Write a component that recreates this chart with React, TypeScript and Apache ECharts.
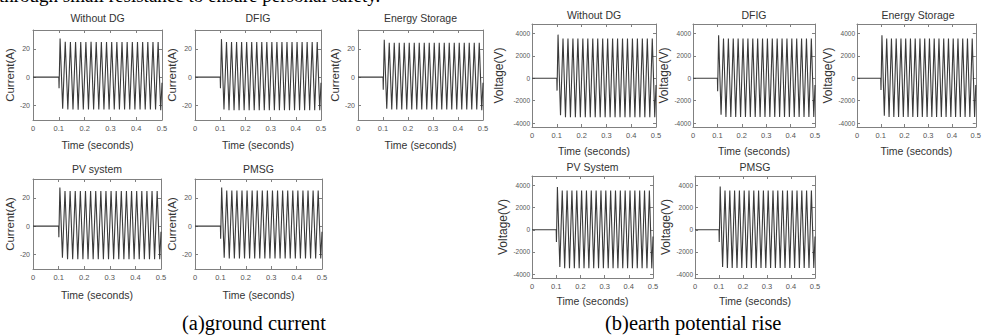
import React, { useEffect, useRef } from "react";
import * as echarts from "echarts";

// ---------- DATA ----------
// time instants (s) of the sampled extremes of each waveform
const times = [
  0, 0.1, 0.101,
  0.105, 0.115, 0.125, 0.135, 0.145, 0.155, 0.165, 0.175, 0.185, 0.195,
  0.205, 0.215, 0.225, 0.235, 0.245, 0.255, 0.265, 0.275, 0.285, 0.295,
  0.305, 0.315, 0.325, 0.335, 0.345, 0.355, 0.365, 0.375, 0.385, 0.395,
  0.405, 0.415, 0.425, 0.435, 0.445, 0.455, 0.465, 0.475, 0.485, 0.495,
  0.5,
];

// ground current (A)
const curWithoutDG = [
  0, 0, -8,
  27.5, -22.5, 25.2, -23, 25, -23, 25, -23.2, 25, -23,
  25, -23, 25.1, -23, 25, -23, 25, -23, 25, -23,
  25, -23, 25, -23, 25, -23, 25, -23, 25, -23,
  25, -23, 25, -23, 25, -23, 25, -23, 25, -23.5,
  -4,
];
const curDFIG = [
  0, 0, -8,
  27, -23, 25, -23.5, 25, -23.5, 25, -23.5, 25, -23.5,
  25, -23.5, 25, -23.5, 25, -23.5, 25, -23.5, 25, -23.5,
  25, -23.5, 25, -23.5, 25, -23.5, 25, -23.5, 25, -23.5,
  25, -23.5, 25, -23.5, 25, -23.5, 25, -23.5, 25, -23.5,
  -4,
];
const curEnergyStorage = [
  0, 0, -9,
  26.5, -22.5, 24.5, -23, 24.5, -23, 24.5, -23, 24.5, -23,
  24.5, -23, 24.5, -23, 24.5, -23, 24.5, -23, 24.5, -23,
  24.5, -23, 24.5, -23, 24.5, -23, 24.5, -23, 24.5, -23,
  24.5, -23, 24.5, -23, 24.5, -23, 24.5, -23, 24.5, -23.5,
  -4,
];
const curPV = [
  0, 0, -8,
  27.5, -22.5, 25, -23.5, 25, -23.5, 25, -23.5, 25, -23.5,
  25, -23.5, 25, -23.5, 25, -23.5, 25, -23.5, 25, -23.5,
  25, -23.5, 25, -23.5, 25, -23.5, 25, -23.5, 25, -23.5,
  25, -23.5, 25, -23.5, 25, -23.5, 25, -23.5, 25, -23.5,
  -4,
];
const curPMSG = [
  0, 0, -9,
  27.5, -22.5, 25.3, -23, 25.3, -23, 25.3, -23, 25.3, -23,
  25.3, -23, 25.3, -23, 25.3, -23, 25.3, -23, 25.3, -23,
  25.3, -23, 25.3, -23, 25.3, -23, 25.3, -23, 25.3, -23,
  25.3, -23, 25.3, -23, 25.3, -23, 25.3, -23, 25.3, -23,
  -4,
];

// earth potential rise (V)
const volWithoutDG = [
  0, 0, -1100,
  3900, -3300, 3550, -3480, 3550, -3480, 3550, -3480, 3550, -3480,
  3550, -3480, 3550, -3480, 3550, -3480, 3550, -3480, 3550, -3480,
  3550, -3480, 3550, -3480, 3550, -3480, 3550, -3480, 3550, -3480,
  3550, -3480, 3550, -3480, 3550, -3480, 3550, -3480, 3550, -3480,
  -600,
];
const volDFIG = [
  0, 0, -1150,
  3850, -3250, 3550, -3450, 3550, -3450, 3550, -3450, 3550, -3450,
  3550, -3450, 3550, -3450, 3550, -3450, 3550, -3450, 3550, -3450,
  3550, -3450, 3550, -3450, 3550, -3450, 3550, -3450, 3550, -3450,
  3550, -3450, 3550, -3450, 3550, -3450, 3550, -3450, 3550, -3450,
  -600,
];
const volEnergyStorage = [
  0, 0, -1050,
  3850, -3350, 3550, -3450, 3550, -3450, 3550, -3450, 3550, -3450,
  3550, -3450, 3550, -3450, 3550, -3450, 3550, -3450, 3550, -3450,
  3550, -3450, 3550, -3450, 3550, -3450, 3550, -3450, 3550, -3450,
  3550, -3450, 3550, -3450, 3550, -3450, 3550, -3450, 3550, -3450,
  -600,
];
const volPV = [
  0, 0, -1100,
  3850, -3350, 3550, -3480, 3550, -3480, 3550, -3480, 3550, -3480,
  3550, -3480, 3550, -3480, 3550, -3480, 3550, -3480, 3550, -3480,
  3550, -3480, 3550, -3480, 3550, -3480, 3550, -3480, 3550, -3480,
  3550, -3480, 3550, -3480, 3550, -3480, 3550, -3480, 3550, -3480,
  -600,
];
const volPMSG = [
  0, 0, -1100,
  3900, -3350, 3550, -3450, 3550, -3450, 3550, -3450, 3550, -3450,
  3550, -3450, 3550, -3450, 3550, -3450, 3550, -3450, 3550, -3450,
  3550, -3450, 3550, -3450, 3550, -3450, 3550, -3450, 3550, -3450,
  3550, -3450, 3550, -3450, 3550, -3450, 3550, -3450, 3550, -3450,
  -600,
];

const xTicks = [0, 0.1, 0.2, 0.3, 0.4, 0.5];
const curTicks = [-20, 0, 20];
const volTicks = [-4000, -2000, 0, 2000, 4000];

const topText = "through small resistance to ensure personal safety.";
const captionA = "(a)ground current";
const captionB = "(b)earth potential rise";

// ---------- LAYOUT ----------
type Panel = {
  title: string;
  values: number[];
  kind: "cur" | "vol";
  left: number;
  top: number;
  width: number;
  height: number;
  xGap: number;
  yGap: number;
  titleDy: number;
};

const panels: Panel[] = [
  { title: "Without DG", values: curWithoutDG, kind: "cur", left: 33, top: 30, width: 129, height: 90, xGap: 19, yGap: 14, titleDy: -12 },
  { title: "DFIG", values: curDFIG, kind: "cur", left: 195, top: 30, width: 126, height: 90, xGap: 19, yGap: 14, titleDy: -12 },
  { title: "Energy Storage", values: curEnergyStorage, kind: "cur", left: 358, top: 30, width: 125, height: 90, xGap: 19, yGap: 14, titleDy: -12 },
  { title: "PV system", values: curPV, kind: "cur", left: 33, top: 179, width: 128, height: 90, xGap: 20, yGap: 14, titleDy: -10 },
  { title: "PMSG", values: curPMSG, kind: "cur", left: 195, top: 179, width: 127, height: 90, xGap: 20, yGap: 14, titleDy: -10 },
  { title: "Without DG", values: volWithoutDG, kind: "vol", left: 532, top: 24, width: 124, height: 103, xGap: 18, yGap: 27, titleDy: -9 },
  { title: "DFIG", values: volDFIG, kind: "vol", left: 693, top: 24, width: 122, height: 103, xGap: 18, yGap: 21, titleDy: -9 },
  { title: "Energy Storage", values: volEnergyStorage, kind: "vol", left: 857, top: 24, width: 122, height: 103, xGap: 18, yGap: 21, titleDy: -9 },
  { title: "PV System", values: volPV, kind: "vol", left: 532, top: 176, width: 121, height: 102, xGap: 17, yGap: 21, titleDy: -9 },
  { title: "PMSG", values: volPMSG, kind: "vol", left: 695, top: 176, width: 120, height: 102, xGap: 17, yGap: 21, titleDy: -9 },
];

const SANS = "Liberation Sans, Arial, sans-serif";
const SERIF = "Liberation Serif, Times New Roman, serif";
const AXIS_COLOR = "#808080";
const LABEL_COLOR = "#555";
const TEXT_COLOR = "#333";

function buildOption() {
  const grid: any[] = [];
  const xAxis: any[] = [];
  const yAxis: any[] = [];
  const series: any[] = [];
  const graphic: any[] = [];

  panels.forEach((p, i) => {
    const isCur = p.kind === "cur";
    const yMin = isCur ? -30.5 : -4350;
    const yMax = isCur ? 33.5 : 4850;
    const yTicks = isCur ? curTicks : volTicks;

    grid.push({ left: p.left, top: p.top, width: p.width, height: p.height, containLabel: false });

    const axisLine = { show: true, onZero: false, lineStyle: { color: AXIS_COLOR, width: 1 } };
    const tick = { show: true, inside: true, length: 3, lineStyle: { color: AXIS_COLOR, width: 1 } };

    xAxis.push({
      gridIndex: i,
      type: "value",
      position: "bottom",
      min: 0,
      max: 0.5,
      interval: 0.1,
      axisLine,
      axisTick: tick,
      splitLine: { show: false },
      axisLabel: {
        fontSize: 7.5,
        color: LABEL_COLOR,
        fontFamily: SANS,
        margin: 4,
        customValues: xTicks,
        formatter: (v: number) => (v === 0 ? "0" : v.toFixed(1)),
      },
      name: "Time (seconds)",
      nameLocation: "middle",
      nameGap: p.xGap,
      nameTextStyle: { fontSize: 10.5, color: TEXT_COLOR, fontFamily: SANS },
    });
    xAxis.push({
      gridIndex: i,
      type: "value",
      position: "top",
      min: 0,
      max: 0.5,
      interval: 0.1,
      axisLine,
      axisTick: tick,
      splitLine: { show: false },
      axisLabel: { show: false },
    });
    yAxis.push({
      gridIndex: i,
      type: "value",
      position: "left",
      min: yMin,
      max: yMax,
      axisLine,
      axisTick: { ...tick, customValues: yTicks },
      splitLine: { show: false },
      axisLabel: {
        fontSize: isCur ? 7 : 6.5,
        color: LABEL_COLOR,
        fontFamily: SANS,
        margin: isCur ? 3 : 2,
        customValues: yTicks,
        formatter: (v: number) => String(v),
      },
      name: isCur ? "Current(A)" : "Voltage(V)",
      nameLocation: "middle",
      nameGap: p.yGap,
      nameTextStyle: { fontSize: isCur ? 11.5 : 12, color: TEXT_COLOR, fontFamily: SANS },
    });
    yAxis.push({
      gridIndex: i,
      type: "value",
      position: "right",
      min: yMin,
      max: yMax,
      axisLine,
      axisTick: { ...tick, customValues: yTicks },
      splitLine: { show: false },
      axisLabel: { show: false },
    });

    const n = Math.min(times.length, p.values.length);
    const data: number[][] = [];
    for (let k = 0; k < n; k++) data.push([times[k], p.values[k]]);

    series.push({
      type: "line",
      xAxisIndex: 2 * i,
      yAxisIndex: 2 * i,
      data,
      showSymbol: false,
      symbol: "none",
      lineStyle: { color: "#3a3a3a", width: 1.1 },
      silent: true,
    });

    graphic.push({
      type: "text",
      x: p.left + p.width / 2,
      y: p.top + p.titleDy,
      style: {
        text: p.title,
        align: "center",
        verticalAlign: "middle",
        fontSize: 10.5,
        fill: TEXT_COLOR,
        fontFamily: SANS,
      },
    });
  });

  graphic.push({
    type: "text",
    x: -1,
    y: -5,
    style: { text: topText, align: "left", verticalAlign: "middle", fontSize: 19, fill: "#000", fontFamily: SERIF },
  });
  graphic.push({
    type: "text",
    x: 182,
    y: 323,
    style: { text: captionA, align: "left", verticalAlign: "middle", fontSize: 20.5, fill: "#000", fontFamily: SERIF },
  });
  graphic.push({
    type: "text",
    x: 605,
    y: 323,
    style: { text: captionB, align: "left", verticalAlign: "middle", fontSize: 20.5, fill: "#000", fontFamily: SERIF },
  });

  return {
    animation: false,
    backgroundColor: "#fff",
    grid,
    xAxis,
    yAxis,
    series,
    graphic,
  };
}

export default function App() {
  const ref = useRef<HTMLDivElement>(null);
  useEffect(() => {
    if (!ref.current) return;
    const chart = echarts.init(ref.current, null, { renderer: "svg" });
    chart.setOption(buildOption() as any);
    return () => chart.dispose();
  }, []);
  return (
    <div
      ref={ref}
      style={{ position: "fixed", left: 0, top: 0, width: 984, height: 336, background: "#fff" }}
    />
  );
}
